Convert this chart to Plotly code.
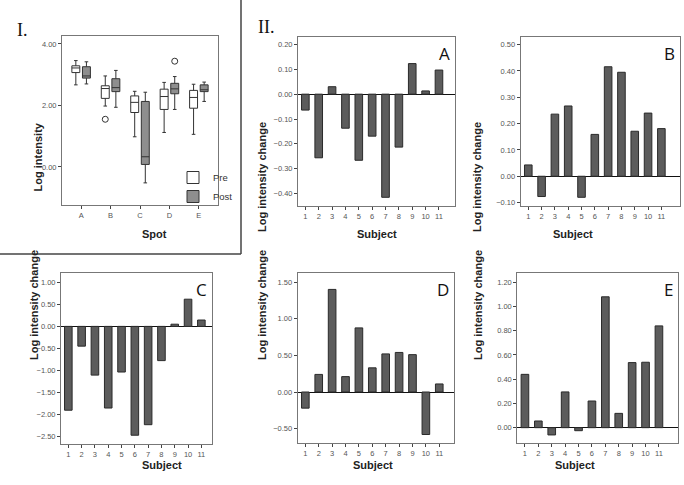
import plotly.graph_objects as go

W, H = 684, 485

spots = ["A", "B", "C", "D", "E"]
pre_low = [2.67, 1.98, 0.98, 1.12, 1.06]
pre_q1 = [3.07, 2.23, 1.77, 1.87, 1.91]
pre_med = [3.22, 2.55, 2.10, 2.29, 2.26]
pre_q3 = [3.29, 2.64, 2.31, 2.53, 2.49]
pre_high = [3.46, 2.96, 2.46, 2.75, 2.69]
post_low = [2.70, 1.94, -0.52, 1.87, 2.13]
post_q1 = [2.89, 2.45, 0.08, 2.38, 2.45]
post_med = [2.96, 2.58, 0.33, 2.54, 2.51]
post_q3 = [3.26, 2.87, 2.13, 2.72, 2.67]
post_high = [3.42, 3.14, 2.43, 2.94, 2.76]
pre_outlier_spot = [1]
pre_outlier_val = [1.55]
post_outlier_spot = [3]
post_outlier_val = [3.44]

subjects = list(range(1, 12))
change_A = [-0.064, -0.256, 0.030, -0.137, -0.266, -0.169, -0.415, -0.213, 0.123, 0.013, 0.097]
change_B = [0.043, -0.077, 0.236, 0.267, -0.080, 0.159, 0.416, 0.395, 0.171, 0.240, 0.181]
change_C = [-1.91, -0.45, -1.11, -1.86, -1.04, -2.48, -2.24, -0.78, 0.05, 0.62, 0.145]
change_D = [-0.22, 0.24, 1.40, 0.21, 0.875, 0.33, 0.52, 0.54, 0.51, -0.58, 0.11]
change_E = [0.44, 0.055, -0.06, 0.295, -0.025, 0.22, 1.08, 0.118, 0.537, 0.54, 0.84]

FONT = "Liberation Sans"
TICKFONT = dict(family=FONT, size=7.5, color="#555")

def px(x):
    return x / W

def py(y):
    return 1 - y / H

fig = go.Figure()

# ---- Panel I: box plots ----
off = 0.18
for i in range(len(spots)):
    fig.add_trace(go.Box(
        x=[i - off], q1=[pre_q1[i]], median=[pre_med[i]], q3=[pre_q3[i]],
        lowerfence=[pre_low[i]], upperfence=[pre_high[i]],
        width=0.27, whiskerwidth=0.45, fillcolor="white",
        line=dict(color="#333", width=1), name="Pre", legendgroup="pre",
        showlegend=(i == 0), boxpoints=False, xaxis="x", yaxis="y"))
    fig.add_trace(go.Box(
        x=[i + off], q1=[post_q1[i]], median=[post_med[i]], q3=[post_q3[i]],
        lowerfence=[post_low[i]], upperfence=[post_high[i]],
        width=0.27, whiskerwidth=0.45, fillcolor="#8e8e8e",
        line=dict(color="#333", width=1), name="Post", legendgroup="post",
        showlegend=(i == 0), boxpoints=False, xaxis="x", yaxis="y"))

fig.add_trace(go.Scatter(
    x=[s - off for s in pre_outlier_spot], y=pre_outlier_val, mode="markers",
    marker=dict(symbol="circle-open", size=6, color="#333", line=dict(width=1)),
    showlegend=False, xaxis="x", yaxis="y"))
fig.add_trace(go.Scatter(
    x=[s + off for s in post_outlier_spot], y=post_outlier_val, mode="markers",
    marker=dict(symbol="circle-open", size=6, color="#333", line=dict(width=1)),
    showlegend=False, xaxis="x", yaxis="y"))

axis_common = dict(showline=True, linecolor="#777", linewidth=1, mirror=True,
                   ticks="outside", ticklen=3, tickcolor="#444", showgrid=False,
                   tickfont=TICKFONT)

layout = dict(
    width=W, height=H, margin=dict(l=0, r=0, t=0, b=0),
    paper_bgcolor="white", plot_bgcolor="white", boxmode="overlay",
    showlegend=True,
    legend=dict(x=px(173), y=py(163), xanchor="left", yanchor="top",
                font=dict(family=FONT, size=9.5, color="#333"),
                bgcolor="rgba(0,0,0,0)", tracegroupgap=0, itemwidth=30,
                borderwidth=0),
    xaxis=dict(domain=[px(62), px(218)], range=[-0.65, 4.65], zeroline=False,
               tickvals=list(range(5)), ticktext=spots, anchor="y", **axis_common),
    yaxis=dict(domain=[py(205), py(36)], range=[-1.24, 4.26], zeroline=False,
               tickvals=[0, 2, 4], tickformat=".2f", anchor="x", **axis_common),
)

panels = [
    ("A", change_A, (298, 455, 37, 206), [0.45, 12.2], [-0.45, 0.23], [-0.4, -0.3, -0.2, -0.1, 0, 0.1, 0.2]),
    ("B", change_B, (520.7, 680, 37, 206), [0.43, 12.4], [-0.113, 0.529], [-0.1, 0, 0.1, 0.2, 0.3, 0.4, 0.5]),
    ("C", change_C, (61, 212, 273.3, 444), [0.45, 11.8], [-2.68, 1.21], [-2.5, -2, -1.5, -1, -0.5, 0, 0.5, 1]),
    ("D", change_D, (297.7, 454, 273.3, 443.3), [0.43, 12.1], [-0.70, 1.62], [-0.5, 0, 0.5, 1, 1.5]),
    ("E", change_E, (517.3, 677.7, 273.3, 443.3), [0.43, 12.4], [-0.129, 1.274], [0, 0.2, 0.4, 0.6, 0.8, 1.0, 1.2]),
]

annotations = []
for k, (lab, vals, (x0, x1, y0, y1), xr, yr, yt) in enumerate(panels, start=2):
    xa, ya = f"x{k}", f"y{k}"
    fig.add_trace(go.Bar(
        x=subjects, y=vals, width=0.57,
        marker=dict(color="#5c5c5c", line=dict(color="#2a2a2a", width=1)),
        showlegend=False, xaxis=xa, yaxis=ya))
    layout[f"xaxis{k}"] = dict(domain=[px(x0), px(x1)], range=xr, tickvals=subjects,
                               zeroline=False, anchor=ya, **axis_common)
    layout[f"yaxis{k}"] = dict(domain=[py(y1), py(y0)], range=yr, tickvals=yt, tickformat=".2f",
                               anchor=xa, zeroline=True, zerolinecolor="#111", zerolinewidth=1,
                               **axis_common)
    annotations.append(dict(text=lab, x=px(x1 - 3), y=py(y0 + 3), xref="paper", yref="paper",
                            xanchor="right", yanchor="top", showarrow=False,
                            font=dict(family="Open Sans", size=17, color="#111")))

def ytitle(text, x, y):
    annotations.append(dict(text=f"<b>{text}</b>", x=px(x), y=py(y), xref="paper", yref="paper",
                            textangle=-90, showarrow=False,
                            font=dict(family=FONT, size=11, color="#222")))

def xtitle(text, x, y):
    annotations.append(dict(text=f"<b>{text}</b>", x=px(x), y=py(y), xref="paper", yref="paper",
                            showarrow=False, font=dict(family=FONT, size=11, color="#222")))

ytitle("Log intensity", 29, 121)
xtitle("Spot", 140, 234)
ytitle("Log intensity change", 262, 120)
xtitle("Subject", 377, 234)
ytitle("Log intensity change", 485, 120)
xtitle("Subject", 595, 234)
ytitle("Log intensity change", 26, 362)
xtitle("Subject", 140, 473)
ytitle("Log intensity change", 262, 362)
xtitle("Subject", 373, 473)
ytitle("Log intensity change", 486, 362)
xtitle("Subject", 597, 473)

annotations.append(dict(text="I.", x=px(15), y=py(30), xref="paper", yref="paper",
                        xanchor="left", yanchor="middle", showarrow=False,
                        font=dict(family="Liberation Serif", size=18, color="#111")))
annotations.append(dict(text="II.", x=px(256), y=py(27), xref="paper", yref="paper",
                        xanchor="left", yanchor="middle", showarrow=False,
                        font=dict(family="Liberation Serif", size=18, color="#111")))

layout["annotations"] = annotations
layout["shapes"] = [
    dict(type="line", xref="paper", yref="paper", x0=px(241), x1=px(241), y0=py(0), y1=py(254),
         line=dict(color="#444", width=1.5)),
    dict(type="line", xref="paper", yref="paper", x0=px(0), x1=px(241), y0=py(254), y1=py(254),
         line=dict(color="#444", width=1.5)),
]

fig.update_layout(**layout)
fig.write_html("out.html", post_script="document.body.style.margin='0';",
               config={"displayModeBar": False})
